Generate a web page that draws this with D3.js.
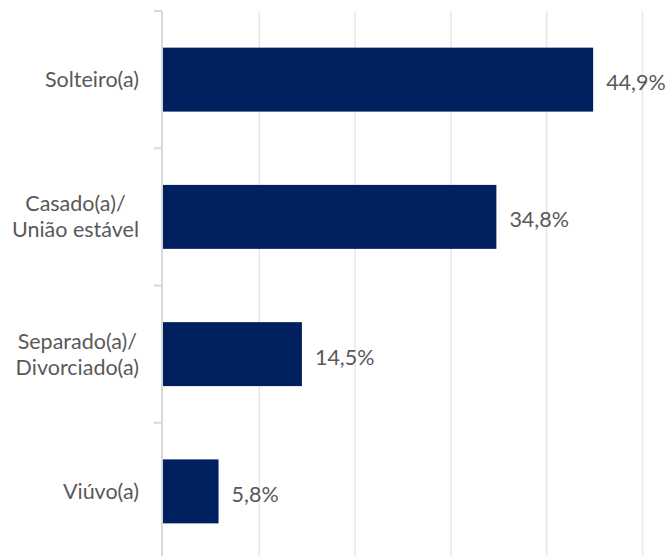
<!DOCTYPE html>
<meta charset="utf-8">
<style>
  html, body { margin: 0; padding: 0; background: #fff; overflow: hidden; }
  text { font-family: Lato, "Open Sans", sans-serif; fill: #595959; }
  .grid line { stroke: #e8e8e8; stroke-width: 1.5px; }
  .grid path { display: none; }
  .bar { fill: #002060; }
</style>
<body>
<svg width="669" height="556"></svg>
<script src="https://d3js.org/d3.v7.min.js"></script>
<script>

  // estado civil
  var categories = [["Solteiro(a)"], ["Casado(a)/", "União estável"], ["Separado(a)/", "Divorciado(a)"], ["Viúvo(a)"]];
  var values = [44.9, 34.8, 14.5, 5.8];
  var valueLabels = ["44,9%", "34,8%", "14,5%", "5,8%"];
  var gridTicks = [10, 20, 30, 40, 50];

  var data = categories.map(function(c, i) {
    return { key: c.join(" "), lines: c, value: values[i], label: valueLabels[i] };
  });

  var plotLeft = 163, plotRight = 642, plotTop = 11, plotBottom = 560;
  var fontSize = 21.5;

  var svg = d3.select("svg");

  var x = d3.scaleLinear().domain([0, 50]).range([plotLeft, plotRight]);
  var y = d3.scaleBand()
    .domain(data.map(function(d) { return d.key; }))
    .range([plotTop, plotBottom])
    .paddingInner(0.534)
    .paddingOuter(0.267);

  // vertical gridlines
  svg.append("g")
    .attr("class", "grid")
    .attr("transform", "translate(0," + plotBottom + ")")
    .call(d3.axisBottom(x).tickValues(gridTicks).tickSize(-(plotBottom - plotTop)).tickFormat(""));

  // left axis line + category boundary ticks
  var step = y.step();
  var bounds = d3.range(data.length + 1).map(function(i) { return plotTop + i * step; });
  svg.append("line")
    .attr("x1", x(0) - 1).attr("x2", x(0) - 1)
    .attr("y1", plotTop).attr("y2", plotBottom)
    .style("stroke", "#d9d9d9").style("stroke-width", 2);
  svg.append("g").selectAll("line")
    .data(bounds)
    .enter().append("line")
      .attr("x1", x(0) - 9).attr("x2", x(0) - 1)
      .attr("y1", function(d) { return d; }).attr("y2", function(d) { return d; })
      .style("stroke", "#d9d9d9").style("stroke-width", 2);

  // bars
  svg.append("g").selectAll("rect")
    .data(data)
    .enter().append("rect")
      .attr("class", "bar")
      .attr("x", x(0))
      .attr("y", function(d) { return y(d.key); })
      .attr("width", function(d) { return x(d.value) - x(0); })
      .attr("height", y.bandwidth());

  // value labels
  svg.append("g").selectAll("text")
    .data(data)
    .enter().append("text")
      .attr("x", function(d) { return x(d.value) + 13; })
      .attr("y", function(d) { return y(d.key) + y.bandwidth() / 2 + 3; })
      .attr("dy", "0.35em")
      .style("font-size", fontSize + "px")
      .text(function(d) { return d.label; });

  // category labels, block right aligned, lines centered
  var lineH = 26;
  var labelRight = 139;
  data.forEach(function(d) {
    var cy = y(d.key) + y.bandwidth() / 2;
    var t = svg.append("text")
      .style("font-size", fontSize + "px")
      .attr("text-anchor", "middle");
    var n = d.lines.length;
    d.lines.forEach(function(line, i) {
      t.append("tspan")
        .attr("y", cy + (i - (n - 1) / 2) * lineH)
        .attr("dy", "0.35em")
        .text(line);
    });
    var w = 0;
    t.selectAll("tspan").each(function() { w = Math.max(w, this.getComputedTextLength()); });
    t.selectAll("tspan").attr("x", labelRight - w / 2);
  });

</script>
</body>
</html>
